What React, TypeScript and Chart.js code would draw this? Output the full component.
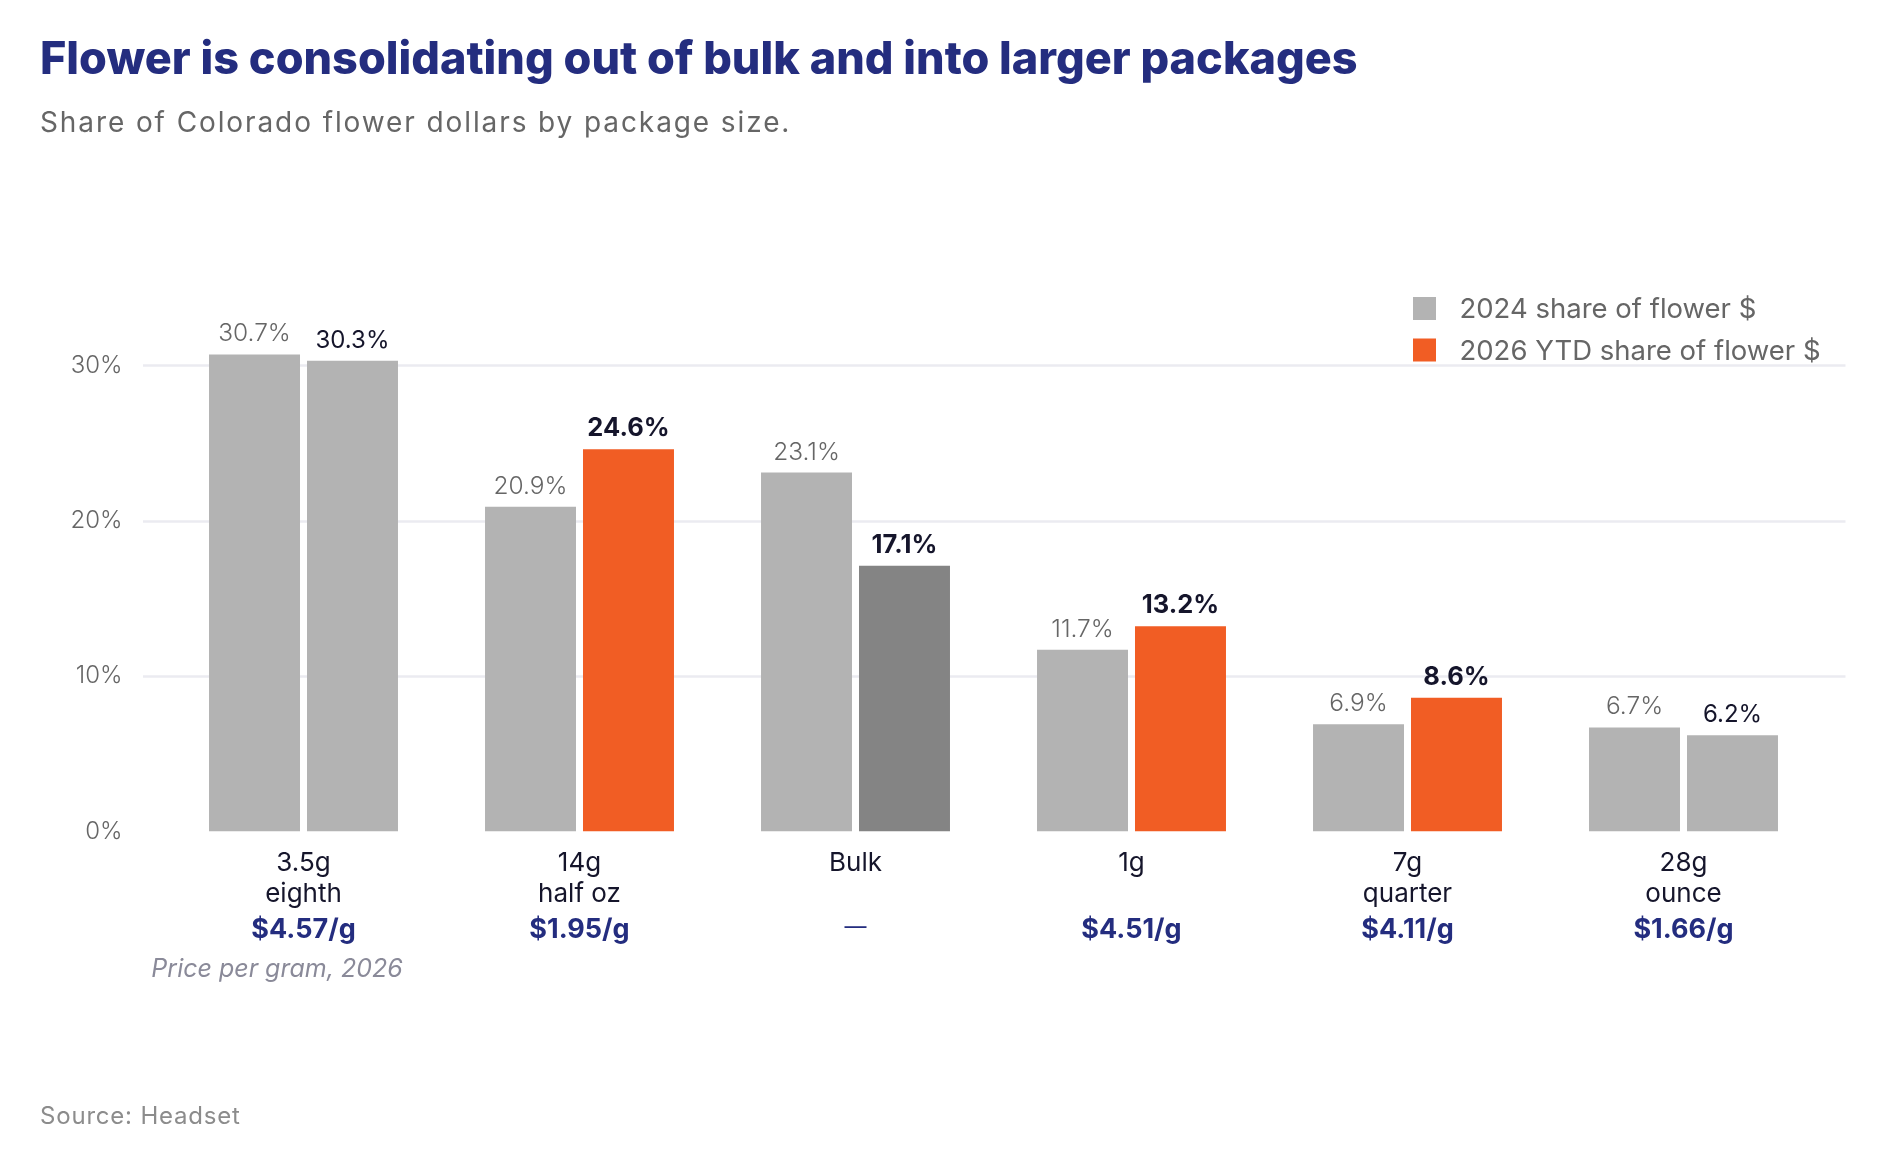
import { useEffect, useRef } from "react";
import { Chart, registerables } from "chart.js";

Chart.register(...registerables);

// --- data ---
const categories = ["3.5g", "14g", "Bulk", "1g", "7g", "28g"];
const packageNames = ["eighth", "half oz", "", "", "quarter", "ounce"];
const share2024 = [30.7, 20.9, 23.1, 11.7, 6.9, 6.7];
const share2026 = [30.3, 24.6, 17.1, 13.2, 8.6, 6.2];
const pricePerGram2026: (number | null)[] = [4.57, 1.95, null, 4.51, 4.11, 1.66];
const yTicks = [0, 10, 20, 30];
const seriesLabels = ["2024 share of flower $", "2026 YTD share of flower $"];

// --- styling ---
const FONT = "Inter, 'Open Sans', sans-serif";
const NAVY = "#242d7f";
const INK = "#15152b";
const MUTED = "#666666";
const GRAY = "#b3b3b3";
const ORANGE = "#f15d24";
const DARK_GRAY = "#848484";
const GRID = "#ebebf1";
const bar2026Colors = [GRAY, ORANGE, DARK_GRAY, ORANGE, ORANGE, GRAY];
const legendColors = [GRAY, ORANGE];

export default function App() {
  const canvasRef = useRef<HTMLCanvasElement | null>(null);
  const chartRef = useRef<Chart | null>(null);

  useEffect(() => {
    if (!canvasRef.current) return;

    const gridLines = {
      id: "gridLines",
      beforeDatasetsDraw(chart: Chart) {
        const { ctx, chartArea, scales } = chart;
        ctx.save();
        ctx.strokeStyle = GRID;
        ctx.lineWidth = 2.5;
        yTicks.forEach((t) => {
          if (t === 0) return;
          const y = Math.round(scales.y.getPixelForValue(t)) + 0.5;
          ctx.beginPath();
          ctx.moveTo(chartArea.left - 22.5, y);
          ctx.lineTo(chartArea.right + 24, y);
          ctx.stroke();
        });
        ctx.restore();
      },
    };

    const valueLabels = {
      id: "valueLabels",
      afterDatasetsDraw(chart: Chart) {
        const { ctx } = chart;
        ctx.save();
        ctx.textAlign = "center";
        ctx.textBaseline = "alphabetic";
        chart.data.datasets.forEach((ds, di) => {
          const meta = chart.getDatasetMeta(di);
          meta.data.forEach((el: any, i) => {
            const v = ds.data[i] as number;
            const strong = di === 1 && bar2026Colors[i] !== GRAY;
            if (strong) ctx.font = `700 25.5px ${FONT}`;
            else if (di === 0) ctx.font = `300 24.5px ${FONT}`;
            else ctx.font = `400 24px ${FONT}`;
            ctx.fillStyle = di === 0 ? MUTED : INK;
            ctx.fillText(`${v.toFixed(1)}%`, el.x, el.y - 13);
          });
        });
        ctx.restore();
      },
    };

    const priceRow = {
      id: "priceRow",
      afterDraw(chart: Chart) {
        const { ctx, chartArea, scales } = chart;
        ctx.save();
        ctx.textAlign = "center";
        ctx.textBaseline = "alphabetic";
        ctx.fillStyle = NAVY;
        pricePerGram2026.forEach((p, i) => {
          const x = scales.x.getPixelForValue(i);
          if (p === null) {
            ctx.font = `400 22px ${FONT}`;
            ctx.fillText("—", x, chartArea.bottom + 102);
          } else {
            ctx.font = `700 27px ${FONT}`;
            ctx.fillText(`$${p.toFixed(2)}/g`, x, chartArea.bottom + 106.5);
          }
        });
        ctx.restore();
      },
    };

    const legendBox = {
      id: "legendBox",
      afterDraw(chart: Chart) {
        const { ctx, chartArea } = chart;
        ctx.save();
        ctx.font = `400 27.5px ${FONT}`;
        ctx.textBaseline = "alphabetic";
        ctx.textAlign = "left";
        const textX = chartArea.right - 362;
        seriesLabels.forEach((label, i) => {
          const top = 297 + i * 41.5;
          ctx.fillStyle = legendColors[i];
          ctx.fillRect(textX - 46.5, top, 23, 23);
          ctx.fillStyle = MUTED;
          ctx.fillText(label, textX, top + 21);
        });
        ctx.restore();
      },
    };

    chartRef.current = new Chart(canvasRef.current, {
      type: "bar",
      data: {
        labels: categories.map((c, i) => (packageNames[i] ? [c, packageNames[i]] : c)),
        datasets: [
          {
            label: seriesLabels[0],
            data: share2024,
            backgroundColor: GRAY,
            barPercentage: 0.9286,
            categoryPercentage: 0.71,
          },
          {
            label: seriesLabels[1],
            data: share2026,
            backgroundColor: bar2026Colors,
            barPercentage: 0.9286,
            categoryPercentage: 0.71,
          },
        ],
      },
      options: {
        responsive: false,
        animation: false,
        layout: { padding: { left: 0, right: 63.5, top: 287.6, bottom: 241.5 } },
        plugins: {
          legend: { display: false },
          tooltip: { enabled: false },
        },
        scales: {
          x: {
            grid: { display: false, drawTicks: false },
            border: { display: false },
            ticks: {
              color: INK,
              font: { family: FONT, size: 26, lineHeight: 1.2 },
              padding: 16,
              autoSkip: false,
              maxRotation: 0,
            },
            afterFit: (s: any) => {
              s.height = 100;
            },
          },
          y: {
            min: 0,
            max: 35,
            grid: { display: false, drawTicks: false },
            border: { display: false },
            ticks: {
              stepSize: 10,
              padding: 43,
              color: MUTED,
              font: { family: FONT, size: 24, weight: 300 },
              callback: (v: any) => (Number(v) % 10 === 0 ? `${v}%` : ""),
            },
            afterFit: (s: any) => {
              s.width = 165.5;
            },
          },
        },
      },
      plugins: [gridLines, valueLabels, priceRow, legendBox],
    });

    return () => {
      chartRef.current?.destroy();
      chartRef.current = null;
    };
  }, []);

  return (
    <div
      style={{
        position: "absolute",
        left: 0,
        top: 0,
        width: 1885,
        height: 1173,
        background: "#fff",
        fontFamily: FONT,
        overflow: "hidden",
      }}
    >
      <canvas
        ref={canvasRef}
        width={1885}
        height={1173}
        style={{ position: "absolute", left: 0, top: 0, width: 1885, height: 1173 }}
      />
      <div
        style={{
          position: "absolute",
          left: 40,
          top: 35,
          fontSize: 45,
          lineHeight: "45px",
          fontWeight: 800,
          color: NAVY,
          whiteSpace: "nowrap",
        }}
      >
        Flower is consolidating out of bulk and into larger packages
      </div>
      <div
        style={{
          position: "absolute",
          left: 40,
          top: 108,
          fontSize: 28,
          lineHeight: "28px",
          letterSpacing: "1.9px",
          color: MUTED,
          whiteSpace: "nowrap",
        }}
      >
        Share of Colorado flower dollars by package size.
      </div>
      <div
        style={{
          position: "absolute",
          left: 127,
          width: 300,
          top: 956,
          fontSize: 25,
          lineHeight: "24px",
          fontStyle: "italic",
          color: "#8a8a99",
          textAlign: "center",
          whiteSpace: "nowrap",
        }}
      >
        Price per gram, 2026
      </div>
      <div
        style={{
          position: "absolute",
          left: 40,
          top: 1104,
          fontSize: 24,
          lineHeight: "24px",
          letterSpacing: "0.8px",
          color: "#8c8c8c",
          whiteSpace: "nowrap",
        }}
      >
        Source: Headset
      </div>
    </div>
  );
}
